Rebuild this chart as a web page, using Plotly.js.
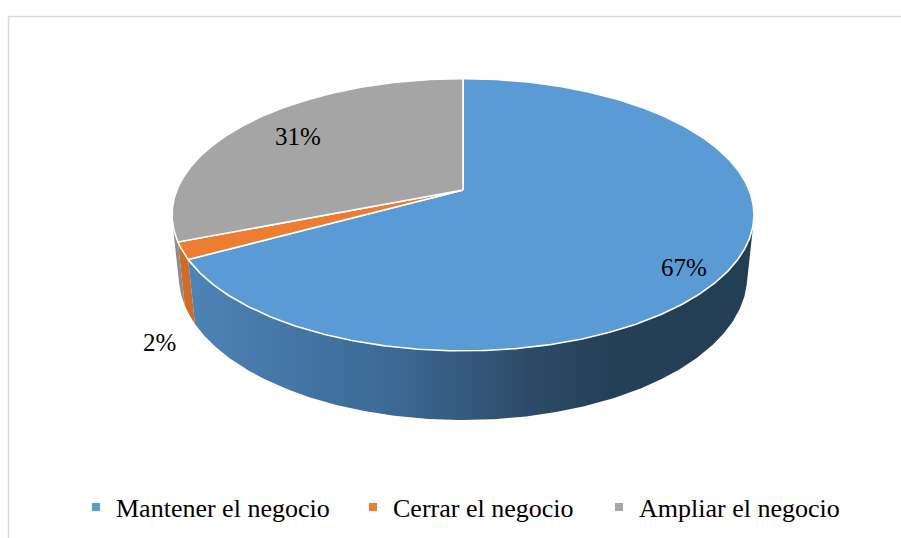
<!DOCTYPE html>
<html>
<head>
<meta charset="utf-8">
<script src="https://cdn.plot.ly/plotly-3.0.1.min.js"></script>
<style>html,body{margin:0;padding:0;background:#fff;}#chart{width:901px;height:538px;}</style>
</head>
<body>
<div id="chart"></div>
<script>
// ---- data ----
const categories = ['Mantener el negocio', 'Cerrar el negocio', 'Ampliar el negocio'];
const values = [67, 2, 31];
const valueLabels = ['67%', '2%', '31%'];

// ---- style ----
const topColors = ['#5B9BD5', '#ED7D31', '#A5A5A5'];
const sideColors = ['#3c6893', '#cf6c2a', '#8c8c8c'];
const blueSideScale = [[0, '#4d83b6'], [0.37, '#3c6893'], [0.6, '#2d4b69'], [0.75, '#253f58'], [1, '#243e56']];
const FONT = 'Liberation Serif, Times New Roman, serif';
const legendLeft = [76, 353, 599];

// ---- 3D projection parameters (layout) ----
const CX = 463, CY = 190, K = 1397.6, D = 4.885;
const SINA = 0.46, COSA = Math.sqrt(1 - SINA * SINA), H = 0.2435;
const labelR = [0.83, 1.1, 0.75];
const labelLevel = [0, -1, 0];
const labelShift = [-17, -21, 2];

function proj(phiDeg, r, Y) {
  const p = phiDeg * Math.PI / 180;
  const X = r * Math.sin(p), Z = -r * Math.cos(p);
  const yc = Y * COSA - Z * SINA;
  const depth = D - (Y * SINA + Z * COSA);
  return [CX + K * X / depth, CY - K * yc / depth];
}
function arc(a, b, r, Y) {
  const n = Math.max(2, Math.ceil(Math.abs(b - a) / 0.5));
  const pts = [];
  for (let i = 0; i <= n; i++) pts.push(proj(a + (b - a) * i / n, r, Y));
  return pts;
}

const total = values.reduce((s, v) => s + v, 0);
const starts = [], ends = [];
let acc = 0;
values.forEach(v => { starts.push(acc / total * 360); acc += v; ends.push(acc / total * 360); });

const phiMin = Math.acos(-1 / (D * COSA)) * 180 / Math.PI;
const phiMax = 360 - phiMin;

const traces = [];
// side faces
values.forEach((v, i) => {
  const a = Math.max(starts[i], phiMin), b = Math.min(ends[i], phiMax);
  if (b <= a) return;
  const pts = arc(a, b, 1, 0).concat(arc(b, a, 1, -H));
  pts.push(pts[0]);
  const t = {
    x: pts.map(p => p[0]), y: pts.map(p => p[1]),
    type: 'scatter', mode: 'lines', fill: 'toself',
    fillcolor: sideColors[i], line: {width: 0, color: sideColors[i]},
    showlegend: false, hoverinfo: 'skip'
  };
  if (i === 0) t.fillgradient = {type: 'horizontal', colorscale: blueSideScale};
  traces.push(t);
});
// top faces
values.forEach((v, i) => {
  const c = proj(0, 0, 0);
  const pts = [c].concat(arc(starts[i], ends[i], 1, 0));
  pts.push(c);
  traces.push({
    x: pts.map(p => p[0]), y: pts.map(p => p[1]),
    type: 'scatter', mode: 'lines', fill: 'toself',
    fillcolor: topColors[i], line: {width: 1.6, color: '#ffffff'},
    showlegend: false, hoverinfo: 'skip'
  });
});
// legend entries (one legend per entry)
const legendNames = ['legend', 'legend2', 'legend3'];
categories.forEach((c, i) => {
  traces.push({
    x: [null], y: [null], type: 'scatter', mode: 'markers', name: c,
    legend: legendNames[i],
    marker: {symbol: 'square', size: 8, color: topColors[i]}, showlegend: true
  });
});

const annotations = values.map((v, i) => {
  const mid = (starts[i] + ends[i]) / 2;
  const p = proj(mid, labelR[i], labelLevel[i] * H);
  return {x: p[0], y: p[1], xref: 'x', yref: 'y', text: valueLabels[i], showarrow: false,
          yshift: labelShift[i], font: {family: FONT, size: 25, color: '#000'}};
});

const layout = {
  width: 901, height: 538,
  margin: {l: 0, r: 0, t: 0, b: 0},
  paper_bgcolor: '#fff', plot_bgcolor: '#fff',
  xaxis: {range: [0, 901], visible: false, fixedrange: true},
  yaxis: {range: [538, 0], visible: false, fixedrange: true},
  showlegend: true,
  annotations: annotations,
  shapes: [{type: 'rect', xref: 'paper', yref: 'paper', x0: 8.5 / 901, x1: 1.02, y0: -0.05, y1: 1 - 16.5 / 538,
            line: {color: '#d9d9d9', width: 1.5}, fillcolor: 'rgba(0,0,0,0)', layer: 'below'}]
};
legendNames.forEach((n, i) => {
  layout[n] = {orientation: 'h', x: legendLeft[i] / 901, xanchor: 'left', y: 1 - 507 / 538, yanchor: 'middle',
               font: {family: FONT, size: 26, color: '#000'}, bgcolor: 'rgba(0,0,0,0)'};
});

Plotly.newPlot('chart', traces, layout, {staticPlot: true, displayModeBar: false});
</script>
</body>
</html>
